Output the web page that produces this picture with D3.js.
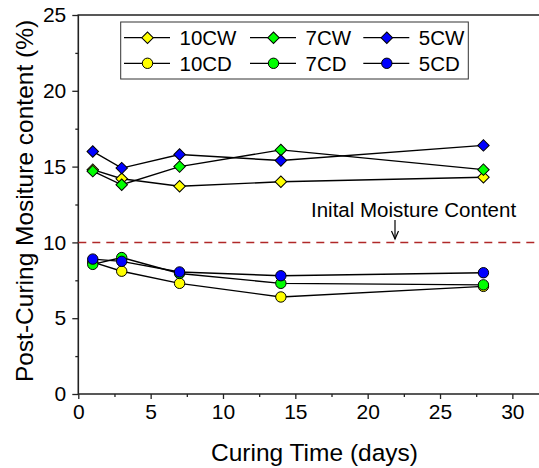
<!DOCTYPE html>
<html><head><meta charset="utf-8">
<script src="https://cdn.jsdelivr.net/npm/d3@7"></script>
<style>body{margin:0;background:#fff}svg{display:block;font-family:"Liberation Sans",Arial,sans-serif}</style>
</head><body>
<svg id="c" width="539" height="468"></svg>
<script>
const days = [1, 3, 7, 14, 28];
const cw10 = [14.8, 14.2, 13.7, 14.0, 14.3];
const cw7 = [14.7, 13.8, 15.0, 16.1, 14.8];
const cw5 = [16.0, 14.9, 15.8, 15.4, 16.4];
const cd10 = [8.7, 8.1, 7.3, 6.4, 7.1];
const cd7 = [8.55, 9.0, 7.95, 7.3, 7.2];
const cd5 = [8.9, 8.75, 8.05, 7.8, 8.0];
const seriesNames = ["10CW", "7CW", "5CW", "10CD", "7CD", "5CD"];
const seriesColors = ["#ffff00", "#00ff00", "#0000ff", "#ffff00", "#00ff00", "#0000ff"];
const seriesShapes = ["diamond", "diamond", "diamond", "circle", "circle", "circle"];
const seriesValues = [cw10, cw7, cw5, cd10, cd7, cd5];
const xTicks = [0, 5, 10, 15, 20, 25, 30];
const yTicks = [0, 5, 10, 15, 20, 25];
const initialMoisture = 10;
const annotationText = "Inital Moisture Content";

const svg = d3.select("#c");
const x = d3.scaleLinear().domain([0, 32]).range([78.3, 541.3]);
const y = d3.scaleLinear().domain([0, 25]).range([394, 15]);

const xMinor = d3.range(0, 32.1, 2.5).filter(v => v % 5 !== 0);
const yMinor = d3.range(0, 25.1, 2.5).filter(v => v % 5 !== 0);

const gx = svg.append("g").attr("transform", `translate(0,${y(0)})`)
  .call(d3.axisBottom(x).tickValues(xTicks).tickSize(5).tickPadding(5).tickFormat(d3.format("d")));
gx.selectAll(".tick text").attr("font-size", 21).attr("fill", "#000").attr("font-family", "Liberation Sans, Arial, sans-serif");
gx.select(".domain").remove();
gx.selectAll(".tick line").attr("stroke", "#222").attr("stroke-width", 1.3);
svg.append("g").attr("transform", `translate(0,${y(0)})`)
  .call(d3.axisBottom(x).tickValues(xMinor).tickSize(3).tickFormat(""))
  .call(g => { g.select(".domain").remove(); g.selectAll(".tick line").attr("stroke", "#222").attr("stroke-width", 1.3); });

const gy = svg.append("g").attr("transform", `translate(${x(0)},0)`)
  .call(d3.axisLeft(y).tickValues(yTicks).tickSize(6).tickPadding(6).tickFormat(d3.format("d")));
gy.selectAll(".tick text").attr("font-size", 21).attr("fill", "#000").attr("font-family", "Liberation Sans, Arial, sans-serif");
gy.select(".domain").remove();
gy.selectAll(".tick line").attr("stroke", "#222").attr("stroke-width", 1.3);
svg.append("g").attr("transform", `translate(${x(0)},0)`)
  .call(d3.axisLeft(y).tickValues(yMinor).tickSize(3).tickFormat(""))
  .call(g => { g.select(".domain").remove(); g.selectAll(".tick line").attr("stroke", "#222").attr("stroke-width", 1.3); });

svg.append("path")
  .attr("d", `M${x(32)},${y(0)}H${x(0)}V${y(25)}H${x(32)}V${y(0)}`)
  .attr("fill", "none").attr("stroke", "#222").attr("stroke-width", 1.6);

svg.append("line")
  .attr("x1", x(0)).attr("x2", x(32)).attr("y1", y(initialMoisture)).attr("y2", y(initialMoisture))
  .attr("stroke", "#b02828").attr("stroke-width", 1.5).attr("stroke-dasharray", "8,6");

svg.append("text").attr("x", 311).attr("y", 216.5).attr("font-size", 20.5).text(annotationText);
const ax = 395;
svg.append("line").attr("x1", ax).attr("x2", ax).attr("y1", 220).attr("y2", 239)
  .attr("stroke", "#000").attr("stroke-width", 1.2);
svg.append("path").attr("d", `M${ax-3.5},${231}L${ax},${239}L${ax+3.5},${231}`)
  .attr("fill", "none").attr("stroke", "#000").attr("stroke-width", 1.2);

const line = d3.line().x((d, i) => x(days[i])).y(d => y(d));
function marker(g, shape, cx, cy, color) {
  if (shape === "diamond") {
    g.append("path").attr("d", d3.symbol(d3.symbolSquare, 66)())
      .attr("transform", `translate(${cx},${cy}) rotate(45)`)
      .attr("fill", color).attr("stroke", "#000").attr("stroke-width", 1);
  } else {
    g.append("circle").attr("cx", cx).attr("cy", cy).attr("r", 5.2)
      .attr("fill", color).attr("stroke", "#000").attr("stroke-width", 1);
  }
}
seriesValues.forEach((vals, s) => {
  const g = svg.append("g");
  g.append("path").attr("d", line(vals)).attr("fill", "none").attr("stroke", "#000").attr("stroke-width", 1.4);
  vals.forEach((v, i) => marker(g, seriesShapes[s], x(days[i]), y(v), seriesColors[s]));
});

const lg = svg.append("g");
lg.append("rect").attr("x", 120.7).attr("y", 22).attr("width", 347.6).attr("height", 57)
  .attr("fill", "#fff").attr("stroke", "#333").attr("stroke-width", 1);
const colX = [124, 250, 363.3];
const rowY = [37.7, 63.3];
seriesNames.forEach((name, s) => {
  const c = s % 3, r = Math.floor(s / 3);
  const x0 = colX[c], cy = rowY[r];
  lg.append("line").attr("x1", x0).attr("x2", x0 + 46).attr("y1", cy).attr("y2", cy)
    .attr("stroke", "#000").attr("stroke-width", 1.3);
  marker(lg, seriesShapes[s], x0 + 23.5, cy, seriesColors[s]);
  lg.append("text").attr("x", x0 + 55.5).attr("y", cy + 7.5).attr("font-size", 20.5).text(name);
});

svg.append("text").attr("x", 314.5).attr("y", 461).attr("text-anchor", "middle")
  .attr("font-size", 24.5).text("Curing Time (days)");
svg.append("text").attr("transform", `translate(33,201) rotate(-90)`).attr("text-anchor", "middle")
  .attr("font-size", 24.5).text("Post-Curing Mositure content (%)");
</script>
</body></html>
